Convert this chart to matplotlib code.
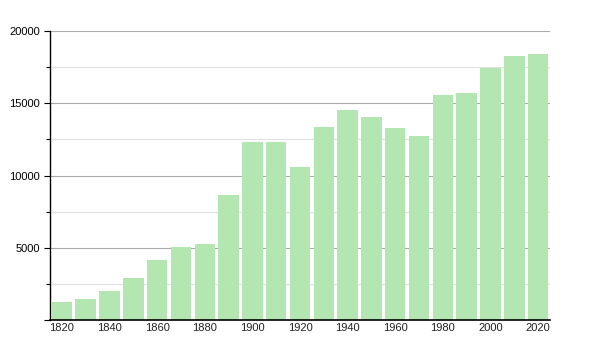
import matplotlib
matplotlib.use("Agg")
import matplotlib.pyplot as plt
from matplotlib.ticker import MultipleLocator

years = [1820, 1830, 1840, 1850, 1860, 1870, 1880, 1890, 1900, 1910, 1920,
         1930, 1940, 1950, 1960, 1970, 1980, 1990, 2000, 2010, 2020]
population = [1250, 1470, 2030, 2920, 4170, 5040, 5270, 8680, 12290, 12290, 10590,
              13350, 14500, 14020, 13260, 12710, 15540, 15740, 17420, 18250, 18410]
ytick_labels = ["", "5000", "10000", "15000", "20000"]

plt.rcParams['font.family'] = ['Liberation Sans', 'DejaVu Sans']

fig = plt.figure(figsize=(6, 3.5), dpi=100)
ax = fig.add_axes([50/600, 30/350, 500/600, 289/350])

pos = list(range(len(years)))
ax.bar(pos, population, width=0.86, color='#b3e6b0', zorder=2)

ax.set_xlim(-0.5, len(years) - 0.5)
ax.set_ylim(0, 20000)

ax.set_xticks([p for p, y in zip(pos, years) if y % 20 == 0])
ax.set_xticklabels([str(y) for y in years if y % 20 == 0])
ax.tick_params(axis='x', length=0, labelsize=8, pad=2, colors='#222222')

ax.set_yticks([0, 5000, 10000, 15000, 20000])
ax.set_yticklabels(ytick_labels)
ax.yaxis.set_minor_locator(MultipleLocator(2500))
ax.tick_params(axis='y', which='major', length=4, width=0.8, labelsize=8, pad=3, colors='black')
ax.tick_params(axis='y', which='minor', length=3, width=0.8)

ax.grid(axis='y', which='major', color='#aaaaaa', linewidth=0.8, zorder=0)
ax.grid(axis='y', which='minor', color='#e0e0e0', linewidth=0.8, zorder=0)
ax.set_axisbelow(True)

for s in ['top', 'right']:
    ax.spines[s].set_visible(False)
ax.spines['left'].set_linewidth(1.0)
ax.spines['bottom'].set_linewidth(1.2)

fig.savefig('out.png', dpi=100)
